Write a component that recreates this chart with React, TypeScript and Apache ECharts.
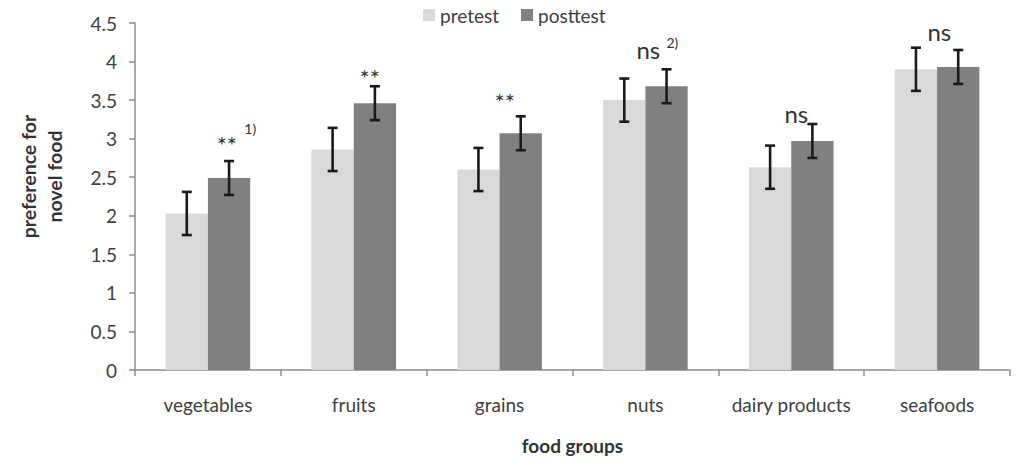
import React, { useEffect, useRef } from "react";
import * as echarts from "echarts";

const categories = ["vegetables", "fruits", "grains", "nuts", "dairy products", "seafoods"];
const pretest = [2.03, 2.86, 2.6, 3.5, 2.63, 3.9];
const posttest = [2.49, 3.46, 3.07, 3.68, 2.97, 3.93];
const pretestErr = [0.28, 0.28, 0.28, 0.28, 0.28, 0.28];
const posttestErr = [0.22, 0.22, 0.22, 0.22, 0.22, 0.22];
const yTicks = [0, 0.5, 1, 1.5, 2, 2.5, 3, 3.5, 4, 4.5];

// significance annotations (y in data units, dx as fraction of category width)
const annoText = ["**", "**", "**", "ns", "ns", "ns"];
const annoY = [2.92, 3.79, 3.48, 4.16, 3.33, 4.39];
const annoDx = [0.13, 0.11, 0.035, 0.02, 0.035, 0.015];
const noteText = ["1)", "", "", "2)", "", ""];
const noteY = [3.13, 0, 0, 4.25, 0, 0];
const noteDx = [0.29, 0, 0, 0.185, 0, 0];

const FONT = "Lato";
const GAP = 0.42;

export default function App() {
  const ref = useRef<HTMLDivElement>(null);
  useEffect(() => {
    const chart = echarts.init(ref.current!, undefined, { renderer: "svg" });
    const errData = (vals: number[], errs: number[]) =>
      vals.map((v, i) => [i, v - errs[i], v + errs[i]]);
    const errSeries = (name: string, vals: number[], errs: number[], side: number) => ({
      type: "custom",
      name: name + "-err",
      data: errData(vals, errs),
      encode: { x: 0, y: [1, 2] },
      z: 5,
      silent: true,
      renderItem: (params: any, api: any) => {
        const i = api.value(0);
        const lo = api.coord([i, api.value(1)]);
        const hi = api.coord([i, api.value(2)]);
        const bw = api.size([1, 0])[0];
        const barW = (bw * (1 - GAP)) / 2;
        const x = lo[0] + (side * barW) / 2;
        const cap = 5;
        const st = { stroke: "#1a1a1a", lineWidth: 2.6 };
        return {
          type: "group",
          children: [
            { type: "line", shape: { x1: x, y1: lo[1], x2: x, y2: hi[1] }, style: st },
            { type: "line", shape: { x1: x - cap, y1: lo[1], x2: x + cap, y2: lo[1] }, style: st },
            { type: "line", shape: { x1: x - cap, y1: hi[1], x2: x + cap, y2: hi[1] }, style: st },
          ],
        };
      },
    });
    const annoSeries = (texts: string[], ys: number[], dxs: number[], size: number) => ({
      type: "custom",
      name: "anno",
      data: texts.map((t, i) => [i, ys[i]]),
      encode: { x: 0, y: 1 },
      z: 6,
      silent: true,
      renderItem: (params: any, api: any) => {
        const idx = params.dataIndex;
        const t = texts[idx];
        if (!t) return null;
        const p = api.coord([api.value(0), api.value(1)]);
        const bw = api.size([1, 0])[0];
        return {
          type: "text",
          x: p[0] + dxs[idx] * bw,
          y: p[1],
          style: {
            text: t,
            fontFamily: FONT,
            fontSize: size,
            fill: "#333",
            align: "center",
            verticalAlign: "middle",
          },
        };
      },
    });
    chart.setOption({
      animation: false,
      backgroundColor: "#fff",
      textStyle: { fontFamily: FONT },
      legend: {
        top: 5,
        left: 423,
        padding: 0,
        itemWidth: 12,
        itemHeight: 12,
        itemGap: 22,
        icon: "rect",
        data: ["pretest", "posttest"],
        textStyle: { fontFamily: FONT, fontSize: 19, color: "#404040", lineHeight: 20 },
      },
      grid: { left: 135, right: 10, top: 23, height: 355 },
      xAxis: {
        type: "category",
        data: categories,
        name: "food groups",
        nameLocation: "middle",
        nameGap: 66,
        nameTextStyle: { fontFamily: FONT, fontSize: 19, fontWeight: "bold", color: "#333" },
        axisLine: { lineStyle: { color: "#8c8c8c", width: 1.5 } },
        axisTick: { show: true, length: 6, lineStyle: { color: "#8c8c8c", width: 1.5 } },
        axisLabel: {
          interval: 0,
          hideOverlap: false,
          fontFamily: FONT,
          fontSize: 19,
          color: "#404040",
          margin: 25,
        },
      },
      yAxis: {
        type: "value",
        min: yTicks[0],
        max: yTicks[yTicks.length - 1],
        interval: 0.5,
        name: "preference for\nnovel food",
        nameLocation: "middle",
        nameGap: 68,
        nameTextStyle: {
          fontFamily: FONT,
          fontSize: 19.5,
          fontWeight: "bold",
          color: "#333",
          lineHeight: 26,
          padding: [0, 0, 0, 40],
        },
        axisLine: { show: true, lineStyle: { color: "#8c8c8c", width: 1.5 } },
        axisTick: { show: true, length: 6, lineStyle: { color: "#8c8c8c", width: 1.5 } },
        splitLine: { show: false },
        axisLabel: { fontFamily: FONT, fontSize: 19, color: "#404040", margin: 18 },
      },
      series: [
        {
          type: "bar",
          name: "pretest",
          data: pretest,
          itemStyle: { color: "#d9d9d9" },
          barGap: "0%",
          barCategoryGap: GAP * 100 + "%",
        },
        {
          type: "bar",
          name: "posttest",
          data: posttest,
          itemStyle: { color: "#808080" },
          barGap: "0%",
          barCategoryGap: GAP * 100 + "%",
        },
        errSeries("pretest", pretest, pretestErr, -1),
        errSeries("posttest", posttest, posttestErr, 1),
        annoSeries(annoText, annoY, annoDx, 24),
        annoSeries(noteText, noteY, noteDx, 14),
      ],
    });
    return () => chart.dispose();
  }, []);
  return (
    <div
      ref={ref}
      style={{ position: "fixed", left: 0, top: 0, width: 1020, height: 460 }}
    />
  );
}
